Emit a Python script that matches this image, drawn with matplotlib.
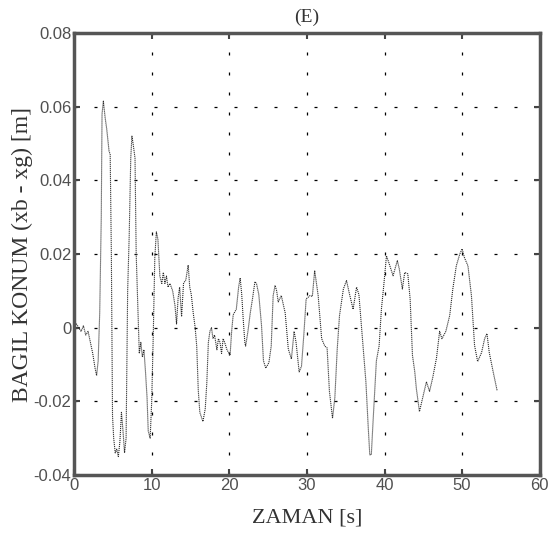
import matplotlib
matplotlib.use('Agg')
import matplotlib.pyplot as plt

# Veri
zaman = [0.0, 0.3, 0.6, 0.9, 1.2, 1.5, 1.8, 2.1, 2.4, 2.7, 2.9, 3.1, 3.3, 3.5, 3.6, 3.77,
         4.0, 4.2, 4.5, 4.65, 4.8, 4.95, 5.1, 5.3, 5.5, 5.7, 5.9, 6.1, 6.3, 6.5, 6.7, 6.9,
         7.1, 7.3, 7.45, 7.6, 7.85, 8.0, 8.2, 8.4, 8.6, 8.8, 9.0, 9.2, 9.4, 9.55, 9.8,
         10.0, 10.2, 10.4, 10.6, 10.8, 11.05, 11.3, 11.5, 11.7, 11.9, 12.1, 12.35, 12.7,
         13.0, 13.2, 13.4, 13.6, 13.85, 14.1, 14.4, 14.7, 14.9, 15.1, 15.35, 15.6, 15.8,
         16.0, 16.2, 16.6, 16.9, 17.1, 17.3, 17.5, 17.7, 17.9, 18.1, 18.4, 18.6, 18.8,
         19.0, 19.2, 19.4, 19.7, 20.1, 20.3, 20.5, 20.9, 21.2, 21.4, 21.6, 21.8, 22.0,
         22.1, 22.4, 22.7, 23.0, 23.3, 23.5, 23.8, 24.15, 24.4, 24.7, 25.1, 25.4, 25.65,
         25.9, 26.1, 26.3, 26.7, 27.2, 27.6, 28.0, 28.35, 28.6, 29.0, 29.3, 29.6, 29.9,
         30.4, 30.7, 31.0, 31.45, 31.9, 32.3, 32.6, 32.9, 33.3, 33.6, 33.9, 34.2, 34.7,
         35.1, 35.5, 35.95, 36.4, 36.7, 37.15, 37.6, 37.9, 38.1, 38.3, 38.5, 38.95, 39.3,
         39.6, 39.9, 40.25, 40.5, 40.8, 41.1, 41.65, 41.9, 42.3, 42.6, 43.0, 43.3, 43.6,
         43.9, 44.1, 44.5, 44.9, 45.4, 45.8, 46.2, 46.7, 47.1, 47.4, 47.9, 48.4, 48.8,
         49.25, 49.7, 50.0, 50.3, 50.75, 51.2, 51.6, 52.0, 52.5, 52.9, 53.2, 53.5, 54.0,
         54.5]
konum = [0.0, 0.001, 0.0, -0.001, 0.0005, -0.002, -0.001, -0.004, -0.007, -0.011, -0.013,
         -0.009, 0.004, 0.03, 0.058, 0.0615, 0.057, 0.054, 0.048, 0.047, 0.02, -0.024,
         -0.03, -0.034, -0.033, -0.035, -0.031, -0.023, -0.028, -0.034, -0.03, 0.01,
         0.025, 0.046, 0.052, 0.05, 0.046, 0.02, 0.006, -0.007, -0.004, -0.008, -0.006,
         -0.012, -0.019, -0.028, -0.030, -0.02, -0.002, 0.019, 0.026, 0.024, 0.014,
         0.012, 0.015, 0.012, 0.014, 0.011, 0.012, 0.01, 0.006, 0.001, 0.008, 0.011,
         0.003, 0.012, 0.013, 0.017, 0.011, 0.009, 0.004, 0.0, -0.005, -0.017, -0.023,
         -0.0255, -0.022, -0.015, -0.004, -0.001, 0.0, -0.003, -0.002, -0.006, -0.003,
         -0.004, -0.007, -0.003, -0.004, -0.006, -0.0075, -0.001, 0.0035, 0.005, 0.011,
         0.0135, 0.009, 0.002, -0.004, -0.005, -0.001, 0.004, 0.008, 0.0125, 0.012,
         0.009, 0.0006, -0.009, -0.011, -0.0095, -0.005, 0.0087, 0.0115, 0.010, 0.007,
         0.0087, 0.004, -0.0058, -0.0085, -0.001, -0.004, -0.012, -0.0105, -0.002,
         0.0078, 0.0087, 0.0085, 0.0155, 0.0087, -0.003, -0.005, -0.0055, -0.0173,
         -0.0246, -0.019, -0.006, 0.0033, 0.0105, 0.0128, 0.009, 0.005, 0.011, 0.009,
         -0.003, -0.0147, -0.027, -0.0345, -0.0345, -0.0264, -0.009, -0.005, 0.005,
         0.0114, 0.0195, 0.018, 0.016, 0.0141, 0.0182, 0.016, 0.0105, 0.015, 0.0146,
         0.0078, -0.0075, -0.012, -0.0165, -0.0228, -0.0192, -0.0147, -0.0173, -0.0137,
         -0.0082, -0.001, -0.003, -0.001, 0.0033, 0.0105, 0.0168, 0.02, 0.0214, 0.019,
         0.0168, 0.0087, -0.0048, -0.0092, -0.0068, -0.003, -0.0016, -0.0068, -0.012,
         -0.017]

x_ticks = [0, 10, 20, 30, 40, 50, 60]
y_ticks = [-0.04, -0.02, 0, 0.02, 0.04, 0.06, 0.08]
y_tick_labels = ['-0.04', '-0.02', '0', '0.02', '0.04', '0.06', '0.08']

SERIF = 'Liberation Serif'
SANS = 'Liberation Sans'

fig = plt.figure(figsize=(5.53, 5.37), dpi=100)
ax = fig.add_axes([0.134, 0.1155, 0.842, 0.823])

ax.plot(zaman, konum, color='#2a2a2a', linewidth=0.8, linestyle=(0, (1, 0.8)))

ax.set_xlim(0, 60)
ax.set_ylim(-0.04, 0.08)
ax.set_xticks(x_ticks)
ax.set_yticks(y_ticks)
ax.set_yticklabels(y_tick_labels)

# MATLAB tarzi seyrek noktali izgara
ax.grid(True, color='black', linestyle=(0, (2.4, 13.6)), linewidth=0.9)
ax.tick_params(direction='in', length=4, width=1.5, top=True, right=True,
               labelsize=12, labelcolor='#505050', color='#444444', pad=2)
for lbl in ax.get_xticklabels() + ax.get_yticklabels():
    lbl.set_family(SANS)

for s in ax.spines.values():
    s.set_linewidth(2.5)
    s.set_color('#555555')

ax.set_title('(E)', family=SERIF, fontsize=14, color='#333333', pad=8)
ax.set_xlabel('ZAMAN [s]', family=SERIF, fontsize=16, color='#333333')
ax.set_ylabel('BAGIL KONUM (xb - xg) [m]', family=SERIF, fontsize=17, color='#333333')
ax.xaxis.set_label_coords(0.5, -0.075)
ax.yaxis.set_label_coords(-0.11, 0.5)
ax.yaxis.label.set_va('center')

plt.savefig('out.png', dpi=100)
plt.close(fig)
